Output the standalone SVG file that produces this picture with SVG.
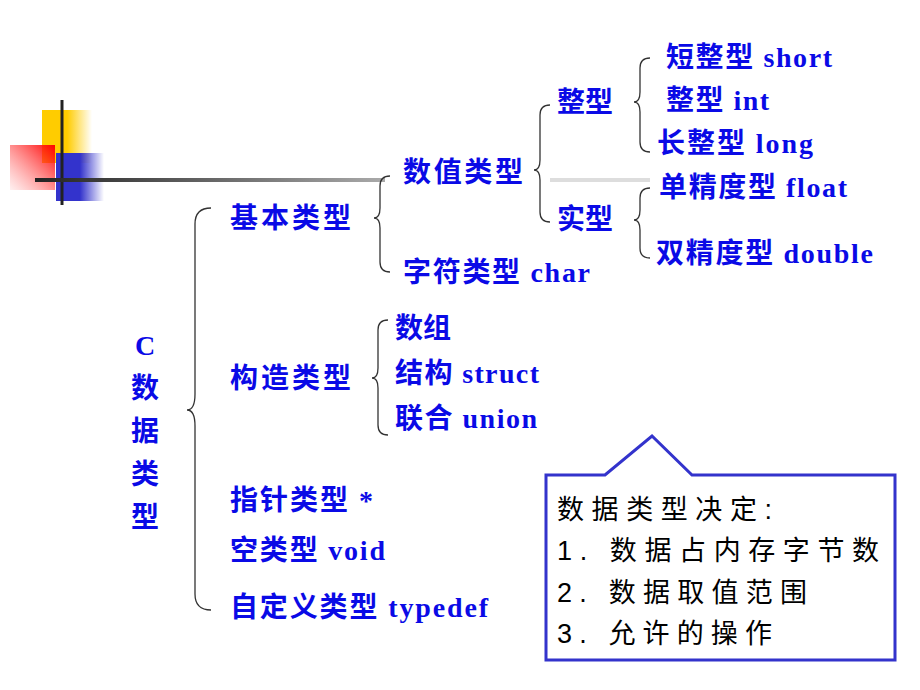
<svg xmlns="http://www.w3.org/2000/svg" width="920" height="690" viewBox="0 0 920 690">
<defs>
<linearGradient id="gy" x1="0" x2="1"><stop offset="0.5" stop-color="#ffcc00"/><stop offset="1" stop-color="#ffcc00" stop-opacity="0"/></linearGradient>
<linearGradient id="gb" x1="0" x2="1"><stop offset="0.5" stop-color="#3333cc"/><stop offset="1" stop-color="#3333cc" stop-opacity="0"/></linearGradient>
<linearGradient id="gr" x1="1" y1="0" x2="0" y2="1"><stop offset="0" stop-color="#ff0000"/><stop offset="1" stop-color="#ff6666" stop-opacity="0.1"/></linearGradient>
<linearGradient id="gl" gradientUnits="userSpaceOnUse" x1="35" y1="0" x2="385" y2="0"><stop offset="0" stop-color="#222"/><stop offset="1" stop-color="#aaa"/></linearGradient>
<style>
.t{font-family:"Liberation Serif","Noto Sans CJK SC",serif;font-weight:bold;font-size:28px;fill:#0a0ae6}
.b{fill:none;stroke:#333;stroke-width:1.3}
.c{font-family:"Liberation Sans","Noto Sans CJK SC",sans-serif;font-size:27px;fill:#000}
</style>
</defs>
<g id="decor">
<rect x="42" y="110" width="50" height="53" fill="url(#gy)"/>
<rect x="56" y="153" width="48" height="48" fill="url(#gb)"/>
<rect x="10" y="145" width="45" height="45" fill="url(#gr)"/>
<line x1="62" y1="100" x2="62" y2="205" stroke="#222" stroke-width="3"/>
<rect x="35" y="178" width="350" height="4" fill="url(#gl)"/>
<rect x="550" y="178" width="100" height="4" fill="#ddd"/>
</g>
<g id="connectors">
<path class="b" d="M211 208 Q195 208 195 224 L195 394 Q195 410 187 410 Q195 410 195 426 L195 594 Q195 610 211 610"/>
<path class="b" d="M390 176 Q380 176 380 186 L380 208 Q380 218 374 218 Q380 218 380 228 L380 262 Q380 272 390 272"/>
<path class="b" d="M550 105 Q540 105 540 115 L540 160 Q540 170 534 170 Q540 170 540 180 L540 212 Q540 222 550 222"/>
<path class="b" d="M650 58 Q640 58 640 68 L640 92 Q640 102 634 102 Q640 102 640 112 L640 142 Q640 152 650 152"/>
<path class="b" d="M650 188 Q640 188 640 198 L640 210 Q640 220 634 220 Q640 220 640 230 L640 248 Q640 258 650 258"/>
<path class="b" d="M388 320 Q378 320 378 330 L378 368 Q378 378 372 378 Q378 378 378 388 L378 425 Q378 435 388 435"/>
</g>
<g id="n-c"><text class="t" x="145" y="355" text-anchor="middle">C</text><text class="t" x="145" y="398" text-anchor="middle">数</text><text class="t" x="145" y="441" text-anchor="middle">据</text><text class="t" x="145" y="484" text-anchor="middle">类</text><text class="t" x="145" y="527" text-anchor="middle">型</text></g>
<g id="n-jb"><text class="t" x="230" y="228" textLength="121">基本类型</text></g>
<g id="n-sz"><text class="t" x="403" y="182" textLength="120">数值类型</text></g>
<g id="n-zf"><text class="t" x="403" y="282" textLength="187">字符类型 char</text></g>
<g id="n-zx"><text class="t" x="557" y="112">整型</text></g>
<g id="n-sx"><text class="t" x="557" y="229">实型</text></g>
<g id="n-short"><text class="t" x="666" y="67" textLength="166">短整型 short</text></g>
<g id="n-int"><text class="t" x="666" y="110" textLength="103">整型 int</text></g>
<g id="n-long"><text class="t" x="657" y="153" textLength="156">长整型 long</text></g>
<g id="n-float"><text class="t" x="659" y="197" textLength="188">单精度型 float</text></g>
<g id="n-double"><text class="t" x="656" y="263" textLength="217">双精度型 double</text></g>
<g id="n-gz"><text class="t" x="230" y="388" textLength="121">构造类型</text></g>
<g id="n-sz2"><text class="t" x="395" y="338">数组</text></g>
<g id="n-struct"><text class="t" x="395" y="383" textLength="144">结构 struct</text></g>
<g id="n-union"><text class="t" x="395" y="428" textLength="142">联合 union</text></g>
<g id="n-zz"><text class="t" x="230" y="510" textLength="143">指针类型 *</text></g>
<g id="n-void"><text class="t" x="230" y="560" textLength="155">空类型 void</text></g>
<g id="n-typedef"><text class="t" x="230" y="617" textLength="258">自定义类型 typedef</text></g>
<g id="callout">
<path d="M546 475 L605 475 L652 436 L692 475 L895 475 L895 660 L546 660 Z" fill="#fff" stroke="#3333cc" stroke-width="3"/>
<text class="c" x="557" y="519" textLength="215">数据类型决定:</text>
<text class="c" x="557" y="560" textLength="322">1. 数据占内存字节数</text>
<text class="c" x="557" y="602" textLength="250">2. 数据取值范围</text>
<text class="c" x="557" y="643" textLength="215">3. 允许的操作</text>
</g>
</svg>
